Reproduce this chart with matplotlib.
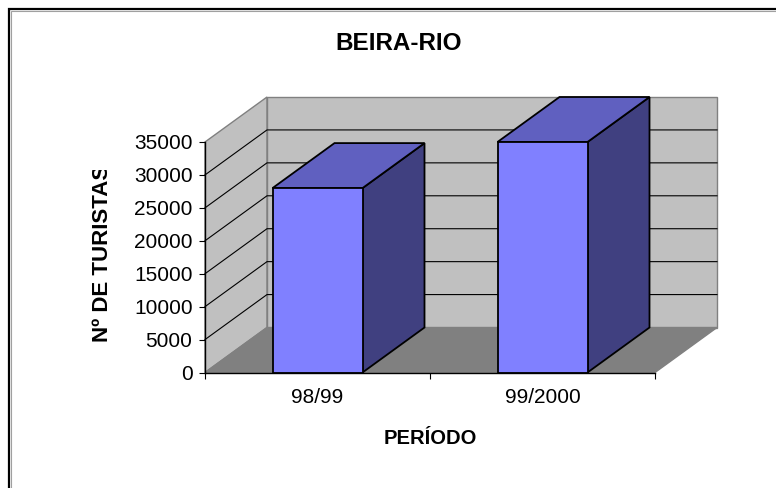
import matplotlib
matplotlib.use("Agg")
import matplotlib.pyplot as plt
from matplotlib.patches import Polygon, Rectangle
from matplotlib.lines import Line2D
from matplotlib.transforms import Bbox, TransformedBbox

# data
periods = ['98/99', '99/2000']
turistas = [28000, 35000]
y_ticks = [0, 5000, 10000, 15000, 20000, 25000, 30000, 35000]

W, H = 776, 488
DEPTH_PX = (62, 45)      # 3D depth offset of the walls, in pixels
BAR_W = 0.4

plt.rcParams['font.family'] = ['Liberation Sans', 'DejaVu Sans']

fig = plt.figure(figsize=(W / 100, H / 100), dpi=100)
ax = fig.add_axes([205 / W, (H - 372.5) / H, 450 / W, 230.5 / H])
ax.set_xlim(-0.5, len(periods) - 0.5)
ax.set_ylim(0, y_ticks[-1])
ax.patch.set_visible(False)
ax.spines['top'].set_visible(False)
ax.spines['right'].set_visible(False)
for s in ['left', 'bottom']:
    ax.spines[s].set_linewidth(1.0)
    ax.spines[s].set_zorder(6)

x0, x1 = ax.get_xlim()
y0, y1 = ax.get_ylim()
pos = ax.get_position()
ddx = DEPTH_PX[0] * (x1 - x0) / (pos.width * W)
ddy = DEPTH_PX[1] * (y1 - y0) / (pos.height * H)


def back(x, y):
    return (x + ddx, y + ddy)


def face(pts, fc, z, ec='k', lw=1.0):
    ax.add_patch(Polygon(pts, closed=True, fc=fc, ec=ec, lw=lw, zorder=z,
                         clip_on=False, joinstyle='miter'))


# walls and floor
face([(x0, y0), (x0, y1), back(x0, y1), back(x0, y0)], '#C0C0C0', 1, ec='#808080')
face([back(x0, y0), back(x1, y0), back(x1, y1), back(x0, y1)], '#C0C0C0', 1, ec='#808080')
face([(x0, y0), (x1, y0), back(x1, y0), back(x0, y0)], '#808080', 1.5, ec='#808080')

# gridlines on side and back wall
for v in y_ticks[1:-1]:
    bx, by = back(x0, v)
    ex, ey = back(x1, v)
    ax.add_line(Line2D([x0, bx, ex], [v, by, ey], color='k', lw=0.8,
                       zorder=2, clip_on=False))

# bars
for i, v in enumerate(turistas):
    l, r = i - BAR_W / 2, i + BAR_W / 2
    face([(r, 0), (r, v), back(r, v), back(r, 0)], '#404080', 3, lw=1.3)
    face([(l, v), (r, v), back(r, v), back(l, v)], '#6060C0', 3, lw=1.3)
    face([(l, 0), (r, 0), (r, v), (l, v)], '#8080FF', 4, lw=1.3)

# axes ticks
ax.set_yticks(y_ticks)
ax.set_yticklabels([str(t) for t in y_ticks])
ax.tick_params(axis='y', direction='out', length=4, width=0.8, pad=5, labelsize=15)
ax.set_xticks([x0 + k for k in range(len(periods) + 1)])
ax.set_xticklabels([])
ax.tick_params(axis='x', which='major', direction='out', length=4.5, width=0.8)
ax.set_xticks(range(len(periods)), minor=True)
ax.set_xticklabels(periods, minor=True)
ax.tick_params(axis='x', which='minor', length=0, pad=11, labelsize=15)

# titles
fig.text(399 / W, 1 - 43 / H, 'BEIRA-RIO', ha='center', va='center',
         fontsize=17.5, fontweight='bold')
fig.text(430 / W, 1 - 438 / H, 'PERÍODO', ha='center', va='center',
         fontsize=14.5, fontweight='bold')
yl = fig.text(102 / W, 1 - 253 / H, 'Nº DE TURISTAS', ha='center', va='center',
              rotation=90, fontsize=16, fontweight='bold')
yl.set_clip_on(True)
yl.set_clip_box(TransformedBbox(Bbox([[0, 0], [1, (H - 170) / H]]), fig.transFigure))

# chart border (runs off the right and bottom edge)
fig.add_artist(Rectangle((8.5 / W, -1), 2, (H - 8.5) / H + 1, transform=fig.transFigure,
                         fill=False, ec='k', lw=1.6))
fig.add_artist(Rectangle((10.5 / W, -1), 2, (H - 10.5) / H + 1, transform=fig.transFigure,
                         fill=False, ec='#A0A0A0', lw=0.8))

fig.savefig('out.png', dpi=100)
